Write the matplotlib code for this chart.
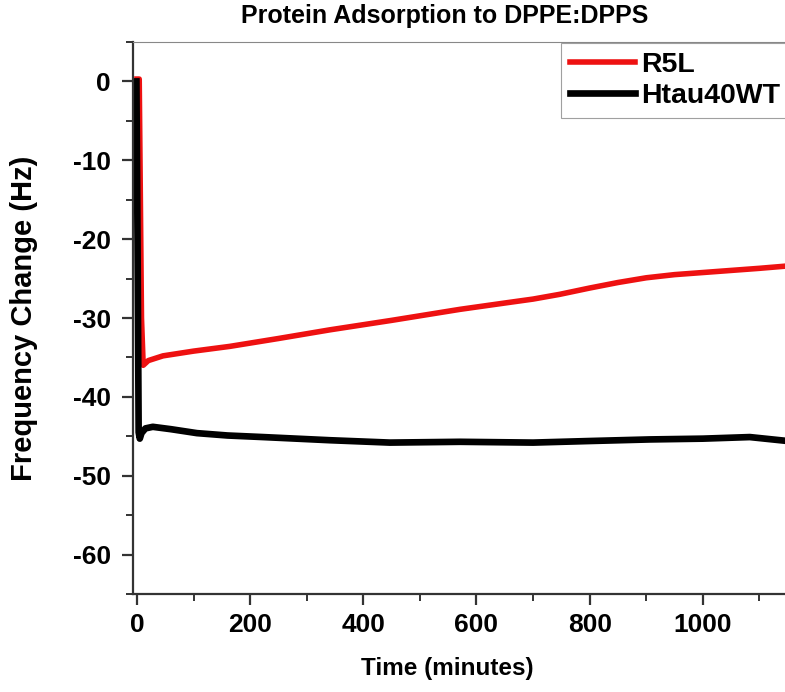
import numpy as np
import matplotlib.pyplot as plt
from matplotlib.ticker import MultipleLocator

# values
t_r5l = [0, 4, 8, 11, 20, 46, 100, 164, 250, 341, 450, 571, 650, 700, 747, 800, 850, 900,
         950, 1025, 1100, 1150]
f_r5l = [0.3, 0.3, -30.0, -36.0, -35.4, -34.8, -34.2, -33.6, -32.6, -31.5, -30.3, -28.9,
         -28.1, -27.6, -27.0, -26.2, -25.5, -24.9, -24.5, -24.1, -23.7, -23.4]

t_htau = [-1, 1, 3, 5, 8, 15, 28, 60, 106, 160, 223, 341, 447, 571, 700, 800, 906, 1000, 1083, 1150]
f_htau = [0.0, -20.0, -44.5, -45.3, -44.6, -44.0, -43.8, -44.1, -44.6, -44.9, -45.1, -45.5,
          -45.8, -45.7, -45.8, -45.6, -45.4, -45.3, -45.1, -45.6]

labels = ["R5L", "Htau40WT"]
x_ticks = [0, 200, 400, 600, 800, 1000]
y_ticks = [-60, -50, -40, -30, -20, -10, 0]

plt.rcParams['font.family'] = ['Liberation Sans', 'DejaVu Sans']
plt.rcParams['font.weight'] = 'bold'
plt.rcParams['axes.unicode_minus'] = False

W, H = 785, 692
fig = plt.figure(figsize=(W / 100, H / 100), dpi=100)
# axes runs past the right edge, like the cropped reference
ax = fig.add_axes([133 / W, 1 - 594 / H, 683 / W, 552 / H])

ax.plot(t_r5l, f_r5l, color='#ee1111', lw=4.0, label=labels[0], solid_joinstyle='round')
ax.plot(t_htau, f_htau, color='black', lw=4.8, label=labels[1], solid_joinstyle='round')

ax.set_xlim(-7, 1200)
ax.set_ylim(-65, 5)
ax.set_xticks(x_ticks)
ax.xaxis.set_minor_locator(MultipleLocator(100))
ax.set_yticks(y_ticks)
ax.yaxis.set_minor_locator(MultipleLocator(5))

ax.tick_params(which='major', direction='out', length=8, width=1.6, color='#333333',
               labelsize=19, pad=6)
ax.tick_params(which='minor', direction='out', length=5, width=1.4, color='#333333')
ax.tick_params(axis='y', which='major', pad=8)
for lab in ax.get_xticklabels() + ax.get_yticklabels():
    lab.set_fontweight('bold')

for s in ['left', 'bottom']:
    ax.spines[s].set_linewidth(1.6)
    ax.spines[s].set_color('#333333')
ax.spines['top'].set_linewidth(0.8)
ax.spines['top'].set_color('#888888')
ax.spines['right'].set_visible(False)

fig.text(445 / W, 1 - 16 / H, "Protein Adsorption to DPPE:DPPS", ha='center', va='center',
         fontsize=18, fontweight='bold')
fig.text(447 / W, 1 - 668 / H, "Time (minutes)", ha='center', va='center',
         fontsize=17.5, fontweight='bold')
fig.text(24 / W, 1 - 318 / H, "Frequency Change (Hz)", ha='center', va='center',
         rotation=90, fontsize=21, fontweight='bold')

leg = ax.legend(loc='upper left', bbox_to_anchor=(561 / W, 1 - 43 / H),
                bbox_transform=fig.transFigure, fancybox=False, frameon=True,
                prop={'size': 20.5, 'weight': 'bold'}, handlelength=2.3,
                handletextpad=0.2, borderpad=0.3, labelspacing=0.2, borderaxespad=0)
leg.get_frame().set_edgecolor('#888888')
leg.get_frame().set_linewidth(0.8)

fig.savefig('out.png', dpi=100)
